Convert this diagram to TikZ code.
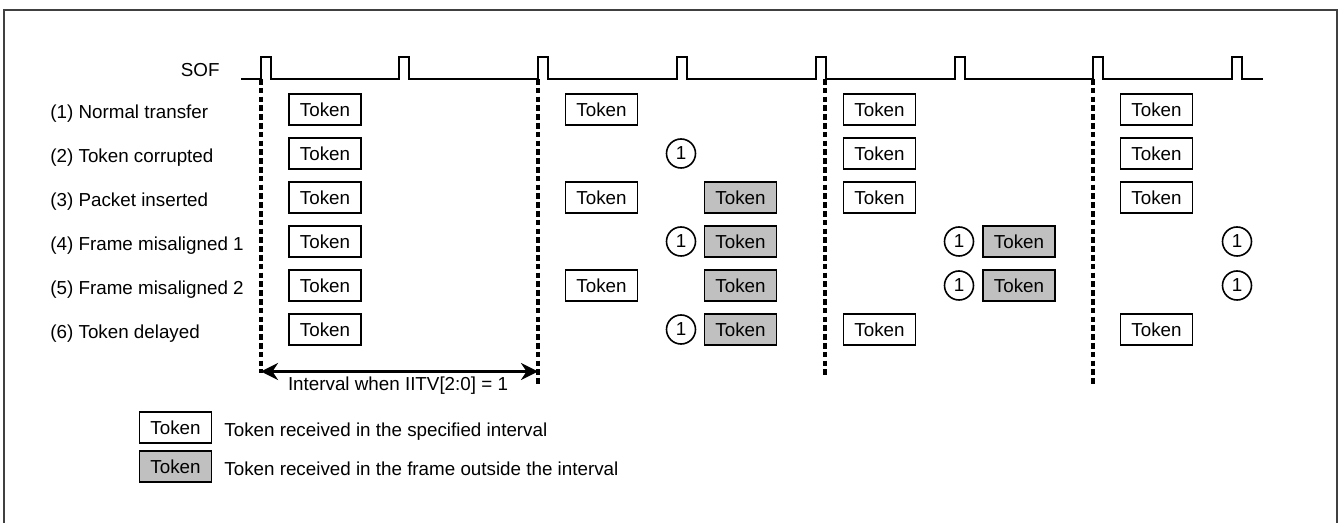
\documentclass[tikz,border=0pt]{standalone}
\usepackage{fontspec}
\setmainfont{Liberation Sans}
\usetikzlibrary{arrows.meta}
\definecolor{lategray}{RGB}{192,192,192}
\definecolor{framegray}{RGB}{64,64,64}
\begin{document}
\begin{tikzpicture}
  [x=0.5pt,y=-0.5pt,font=\fontsize{9.4}{11}\selectfont,
   tok/.style={draw,thick,fill=white,minimum width=36pt,minimum height=15.5pt,inner sep=0pt},
   late/.style={tok,fill=lategray},
   num/.style={circle,draw,thick,minimum size=14.5pt,inner sep=0pt},
   sep/.style={line width=1.7pt,dash pattern=on 2.8pt off 1.6pt},
   lbl/.style={anchor=base west,inner sep=0pt}]
  \useasboundingbox (0,0) rectangle (1339,523);
  \draw[framegray,line width=0.75pt] (4,523) -- (4,10) -- (1337,10) -- (1337,523);

  % SOF signal
  \node[anchor=base east,inner sep=0pt] (sof) at (220,77) {SOF};
  \draw[thick] (241,79) foreach \p in {261,399,538,677,816,955,1093,1232}
    { -- (\p,79) -- (\p,57) -- (\p+10,57) -- (\p+10,79) } -- (1263,79);

  % row labels
  \node[lbl] (r1) at (50,118.5) {(1) Normal transfer};
  \node[lbl] (r2) at (50,162.5) {(2) Token corrupted};
  \node[lbl] (r3) at (50,206.5) {(3) Packet inserted};
  \node[lbl] (r4) at (50,250.5) {(4) Frame misaligned 1};
  \node[lbl] (r5) at (50,294.5) {(5) Frame misaligned 2};
  \node[lbl] (r6) at (50,338.5) {(6) Token delayed};

  % interval borders
  \coordinate (d1t) at (261,79);  \coordinate (d1b) at (261,373);
  \coordinate (d2t) at (538,79);  \coordinate (d2b) at (538,384);
  \coordinate (d3t) at (825,79);  \coordinate (d3b) at (825,376);
  \coordinate (d4t) at (1093,79); \coordinate (d4b) at (1093,384);
  \foreach \d in {d1,d2,d3,d4}
    \draw[sep] (\d t) -- (\d b);

  % first interval
  \foreach \y [count=\i] in {109.5,153.5,197.5,241.5,285.5,329.5}
    \node[tok] (a\i) at (325,\y) {Token};

  % second interval
  \node[tok]  (b1) at (601.5,109.5) {Token};
  \node[num]  (n2) at (681,153.5) {1};
  \node[tok]  (b3) at (601.5,197.5) {Token};
  \node[late] (g3) at (740.5,197.5) {Token};
  \node[num]  (n4) at (681,241.5) {1};
  \node[late] (g4) at (740.5,241.5) {Token};
  \node[tok]  (b5) at (601.5,285.5) {Token};
  \node[late] (g5) at (740.5,285.5) {Token};
  \node[num]  (n6) at (681,329.5) {1};
  \node[late] (g6) at (740.5,329.5) {Token};

  % third interval
  \node[tok]  (c1) at (879.5,109.5) {Token};
  \node[tok]  (c2) at (879.5,153.5) {Token};
  \node[tok]  (c3) at (879.5,197.5) {Token};
  \node[num]  (m4) at (959,241.5) {1};
  \node[late] (h4) at (1019,241.5) {Token};
  \node[num]  (m5) at (959,285.5) {1};
  \node[late] (h5) at (1019,285.5) {Token};
  \node[tok]  (c6) at (879.5,329.5) {Token};

  % fourth interval
  \node[tok]  (e1) at (1156.5,109.5) {Token};
  \node[tok]  (e2) at (1156.5,153.5) {Token};
  \node[tok]  (e3) at (1156.5,197.5) {Token};
  \node[num]  (k4) at (1237,241.5) {1};
  \node[num]  (k5) at (1237,285.5) {1};
  \node[tok]  (e6) at (1156.5,329.5) {Token};

  % interval arrow
  \coordinate (i1) at (261,371.5);
  \coordinate (i2) at (538,371.5);
  \draw[line width=1.6pt,{Stealth[length=8.5pt,width=8.5pt]}-{Stealth[length=8.5pt,width=8.5pt]}] (i1) -- (i2);
  \node[anchor=base,inner sep=0pt] (ilbl) at (398,391) {Interval when IITV[2:0] = 1};

  % legend
  \node[tok]  (lt) at (175.5,427.5) {Token};
  \node[late] (lg) at (175.5,466.5) {Token};
  \node[lbl] (ltx) at (224,436.5) {Token received in the specified interval};
  \node[lbl] (lgx) at (224,475.5) {Token received in the frame outside the interval};

\end{tikzpicture}
\end{document}
